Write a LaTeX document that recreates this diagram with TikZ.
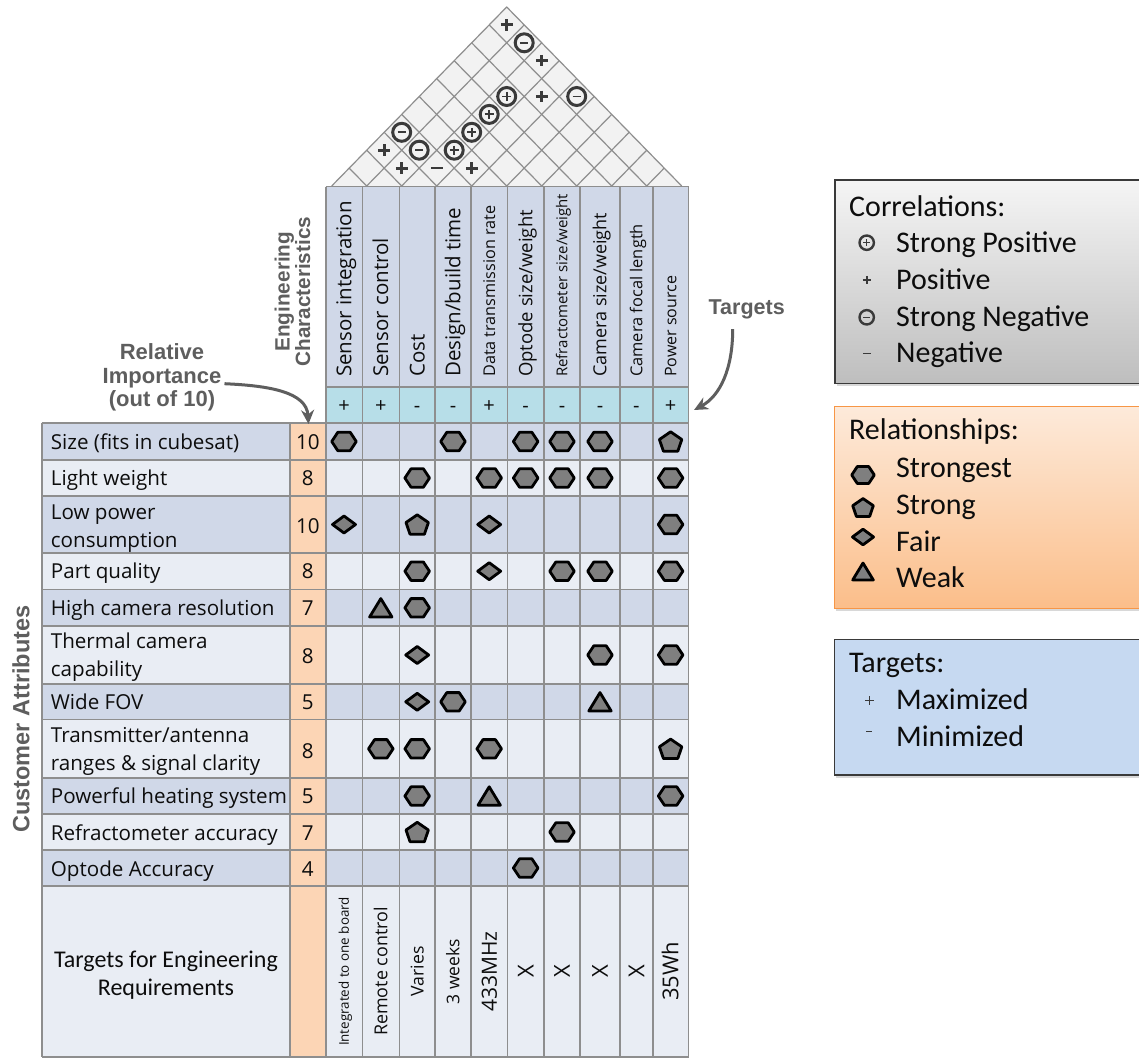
\documentclass[tikz,border=0pt]{standalone}
\usepackage{fontspec}
\setmainfont{Open Sans}
\newfontfamily\carl{Carlito}
\newfontfamily\arb{Liberation Sans}
\usetikzlibrary{shadows,arrows.meta,shadings}
\definecolor{bandA}{HTML}{D0D8E8}
\definecolor{bandB}{HTML}{E9EDF4}
\definecolor{peach}{HTML}{FCD5B5}
\definecolor{aqua}{HTML}{B7DEE8}
\definecolor{gridc}{HTML}{8E8E8E}
\definecolor{roofc}{HTML}{F2F2F2}
\definecolor{symc}{HTML}{7F7F7F}
\definecolor{labgray}{HTML}{5E5E5E}
\definecolor{darkc}{HTML}{3A3A3A}
\definecolor{lgA}{HTML}{F5F5F5}
\definecolor{lgB}{HTML}{BEBEBE}
\definecolor{loA}{HTML}{FDEADA}
\definecolor{loB}{HTML}{FBBE8A}
\definecolor{lorange}{HTML}{F79646}
\definecolor{lblue}{HTML}{C6D9F1}
\definecolor{txtc}{HTML}{0D0D0D}
\newcommand\fsz[2]{\fontsize{#1}{#2}\selectfont}
\newcommand\relsym[3]{%
  \pgfmathsetmacro\px{{344,380.8,417.2,453,489.2,525.7,562,600,636.4,670.6}[#2]}%
  \pgfmathsetmacro\py{{0,441.5,478,524.5,571.2,607.8,655,701.8,748.8,796,832,868}[#1]}%
  \pic at (\px,\py) {#3};}
\newcommand\corsym[3]{\pic at ({331.7+35*(#1+#2+1)/2},{186-35.8*(#2-#1)/2}) {#3};}
\tikzset{
  symb/.style={draw=black,line width=2.8pt,fill=symc,line join=round},
  hexs/.pic={\path[symb] (-12.3,0)--(-6.2,-9.2)--(6.2,-9.2)--(12.3,0)--(6.2,9.2)--(-6.2,9.2)--cycle;},
  pents/.pic={\path[symb] (0,-9.7)--(11.2,-2)--(7.2,9.7)--(-7.2,9.7)--(-11.2,-2)--cycle;},
  diams/.pic={\path[symb] (-11.5,0)--(0,-8.5)--(11.5,0)--(0,8.5)--cycle;},
  tris/.pic={\path[symb] (0,-9.2)--(11.2,9.2)--(-11.2,9.2)--cycle;},
  cplus/.pic={\draw[darkc,line width=3pt,fill=roofc] (0,0) circle (9);
              \draw[darkc,line width=1.8pt] (-4.5,0)--(4.5,0) (0,-4.5)--(0,4.5);},
  cminus/.pic={\draw[darkc,line width=3pt,fill=roofc] (0,0) circle (9);
              \draw[darkc,line width=1.8pt] (-4,0)--(4,0);},
  rplus/.pic={\draw[darkc,line width=2.9pt] (-5.8,0)--(5.8,0) (0,-5.8)--(0,5.8);},
  rminus/.pic={\draw[darkc,line width=2.4pt] (-5.8,0)--(5.8,0);},
  lcplus/.pic={\draw[darkc,line width=2.4pt] (0,0) circle (7.2);
               \draw[darkc,line width=1.5pt] (-3.7,0)--(3.7,0) (0,-3.7)--(0,3.7);},
  lcminus/.pic={\draw[darkc,line width=2.4pt] (0,0) circle (7.2);
               \draw[darkc,line width=1.5pt] (-3.7,0)--(3.7,0);},
  lplus/.pic={\draw[darkc,line width=1.6pt] (-4.2,0)--(4.2,0) (0,-4.2)--(0,4.2);},
  lminus/.pic={\draw[darkc,line width=1.5pt] (-3.8,0)--(3.8,0);},
  roofline/.style={gridc,line width=1.2pt},
  gridline/.style={gridc,line width=1.6pt},
  callout/.style={draw=labgray,line width=3pt,-{Stealth[length=14pt,width=13pt]}},
  legtxt/.style={anchor=base west,font=\carl\fsz{30}{35},text=txtc},
  legshadow/.style={drop shadow={shadow xshift=1.5pt,shadow yshift=-2.5pt,opacity=0.3}},
}
\begin{document}
\begin{tikzpicture}[x=1pt,y=-1pt,every node/.style={inner sep=0pt,text=txtc}]
\useasboundingbox (0,0) rectangle (1139,1059);
\clip (0,0) rectangle (1139,1059);
\fill[white] (0,0) rectangle (1139,1059);

% ---- roof
\fill[roofc] (331.7,186) -- (506.7,7) -- (681.7,186) -- cycle;
\foreach \k in {1,...,9}{
  \draw[roofline] ({331.7+35*\k},186) -- ({331.7+35*(10+\k)/2},{186-35.8*(10-\k)/2});
  \draw[roofline] ({331.7+35*\k},186) -- ({331.7+35*\k/2},{186-35.8*\k/2});
}
\draw[roofline,line join=round] (331.7,186) -- (506.7,7) -- (681.7,186);
\foreach \i/\j in {0/9,2/9,3/8,0/2,1/2,3/4}{\corsym{\i}{\j}{rplus}}
\foreach \i/\j in {1/9,4/9,0/3,1/3}{\corsym{\i}{\j}{cminus}}
\foreach \i/\j in {2/7,2/6,2/5,2/4}{\corsym{\i}{\j}{cplus}}
\corsym{2}{3}{rminus}

% ---- table fills
\foreach \i/\ya/\yb/\cl in {1/423/460/bandA,2/460/496/bandB,3/496/553/bandA,4/553/589.5/bandB,5/589.5/626/bandA,6/626/684/bandB,7/684/719.5/bandA,8/719.5/778/bandB,9/778/814/bandA,10/814/850/bandB,11/850/886/bandA,12/886/1057/bandB}
  \fill[\cl] (41.7,\ya) rectangle (688.5,\yb);
\fill[peach] (290,423) rectangle (325.7,1057);
\fill[bandA] (325.7,186.7) rectangle (688.5,387);
\fill[aqua] (325.7,387) rectangle (688.5,423);

% ---- grid
\foreach \y in {423,460,496,553,589.5,626,684,719.5,778,814,850,886,1057}
  \draw[gridline] (41.7,\y) -- (688.5,\y);
\draw[gridline] (325.7,186.7) -- (688.5,186.7) (325.7,387) -- (688.5,387);
\draw[gridline] (41.7,423) -- (41.7,1057) (290,423) -- (290,1057);
\foreach \x in {325.7,362.3,399.3,435,471,507.3,544,580,620,652.7,688.5}
  \draw[gridline] (\x,186.7) -- (\x,1057);

% ---- column headers
\foreach \k/\x/\t/\s in {0/344/{Sensor integration}/20.5,1/380.8/{Sensor control}/20.5,2/417.2/Cost/20.5,3/453/{Design/build time}/20.5,4/489.2/{Data transmission rate}/16.2,5/525.7/{Optode size/weight}/18.5,6/562/{Refractometer size/weight}/15,7/600/{Camera size/weight}/18,8/636.4/{Camera focal length}/16.4,9/670.6/{Power source}/16}
  \node[rotate=90,anchor=base west,font=\fsz{\s}{\s}] (ec\k) at ({\x+0.36*\s},377) {\t};
\foreach \k/\x/\g in {0/344/+,1/380.8/+,2/417.2/-,3/453/-,4/489.2/+,5/525.7/-,6/562/-,7/600/-,8/636.4/-,9/670.6/+}
  \node[anchor=base,font=\fsz{20}{20}] (tg\k) at (\x,412.7) {\g};

% ---- rows (base anchor = baseline of the last line)
\foreach \i/\by/\nb/\imp/\t in {1/449.5/449.5/10/{Size (fits in cubesat)},2/485.3/485.3/8/{Light weight},3/547.3/533/10/{Low power\\consumption},4/578.5/578.5/8/{Part quality},5/615/615/7/{High camera resolution},6/676.6/663.3/8/{Thermal camera\\capability},7/709/709/5/{Wide FOV},8/770.6/758/8/{Transmitter/antenna\\ranges \& signal clarity},9/803.3/803.3/5/{Powerful heating system},10/840/840/7/{Refractometer accuracy},11/876/876/4/{Optode Accuracy}}
{
  \node[anchor=base west,align=left,font=\fsz{20.6}{28.3}] (ca\i) at (50.7,\by) {\t};
  \node[anchor=base,font=\fsz{20.6}{24}] (imp\i) at (307.8,\nb) {\imp};
}
\node[font=\carl\fsz{24}{28.5},align=center] (tfer) at (166,975) {Targets for Engineering\\Requirements};
\foreach \k/\x/\t/\s in {0/344/{Integrated to one board}/13.4,1/380.8/{Remote control}/17.9,2/417.2/Varies/17.7,3/453/{3 weeks}/17.5,4/489.2/433MHz/21,5/525.7/X/22,6/562/X/22,7/600/X/22,8/636.4/X/22,9/670.6/35Wh/21.9}
  \node[rotate=90,anchor=base,font=\fsz{\s}{\s}] (tv\k) at ({\x+0.36*\s},971.5) {\t};

% ---- relationship symbols
\foreach \r/\c in {1/0,1/3,1/5,1/6,1/7,2/2,2/4,2/5,2/6,2/7,2/9,3/9,4/2,4/6,4/7,4/9,5/2,6/7,6/9,7/3,8/1,8/2,8/4,9/2,9/9,10/6,11/5}{\relsym{\r}{\c}{hexs}}
\foreach \r/\c in {1/9,3/2,8/9,10/2}{\relsym{\r}{\c}{pents}}
\foreach \r/\c in {3/0,3/4,4/4,6/2,7/2}{\relsym{\r}{\c}{diams}}
\foreach \r/\c in {5/1,7/7,9/4}{\relsym{\r}{\c}{tris}}

% ---- side labels and callouts
\node[rotate=90,align=center,font=\arb\bfseries\fsz{20.7}{18.5},text=labgray] (engc) at (292.5,291.7) {Engineering\\Characteristics};
\node[rotate=90,font=\arb\bfseries\fsz{23.5}{24},text=labgray] (custa) at (21,719) {Customer Attributes};
\node[align=center,font=\arb\bfseries\fsz{22}{23.4},text=labgray] (relimp) at (162,377.7) {Relative\\Importance\\(out of 10)};
\coordinate (impTip) at (308.5,424);
\draw[callout] ([xshift=3pt,yshift=-6pt]relimp.east) .. controls +(45,2) and +(-2,-32) .. (impTip);
\node[font=\arb\bfseries\fsz{21.5}{22},text=labgray] (tgtlbl) at (746.7,309.3) {Targets};
\coordinate (tgtTip) at (694,410);
\draw[callout] ([xshift=-14pt,yshift=-10pt]tgtlbl.south) .. controls +(0,40) and +(26,-14) .. (tgtTip);

% ---- legends
\draw[draw=darkc,line width=1.3pt,top color=lgA,bottom color=lgB,legshadow] (835,180) rectangle (1180,383.3);
\node[legtxt] (lc0) at (849,216.2) {Correlations:};
\node[legtxt] (lc1) at (896,252.2) {Strong Positive};
\node[legtxt] (lc2) at (896,289.5) {Positive};
\node[legtxt] (lc3) at (896,326.8) {Strong Negative};
\node[legtxt] (lc4) at (896,362.8) {Negative};
\pic at (866.7,242.7) {lcplus};
\pic at (867,280) {lplus};
\pic at (866.7,317.3) {lcminus};
\pic at (867,353.3) {lminus};

\draw[draw=lorange,line width=1.3pt,top color=loA,bottom color=loB,legshadow] (834.3,406.7) rectangle (1180,608.3);
\node[legtxt] (lr0) at (849,439.5) {Relationships:};
\node[legtxt] (lr1) at (896,477.2) {Strongest};
\node[legtxt] (lr2) at (896,514.5) {Strong};
\node[legtxt] (lr3) at (896,551.2) {Fair};
\node[legtxt] (lr4) at (896,587.8) {Weak};
\pic[scale=0.92] at (863,475) {hexs};
\pic[scale=0.92] at (863,507.5) {pents};
\pic[scale=0.92] at (863,537) {diams};
\pic[scale=0.92] at (863,571.5) {tris};

\draw[draw=darkc,line width=1.3pt,fill=lblue,legshadow] (834.3,639.3) rectangle (1180,775);
\node[legtxt] (lt0) at (849,672.8) {Targets:};
\node[legtxt] (lt1) at (896,709.5) {Maximized};
\node[legtxt] (lt2) at (896,746.2) {Minimized};
\pic at (869.3,700.5) {lplus};
\pic[scale=0.7] at (869,731.7) {lminus};
\end{tikzpicture}
\end{document}
